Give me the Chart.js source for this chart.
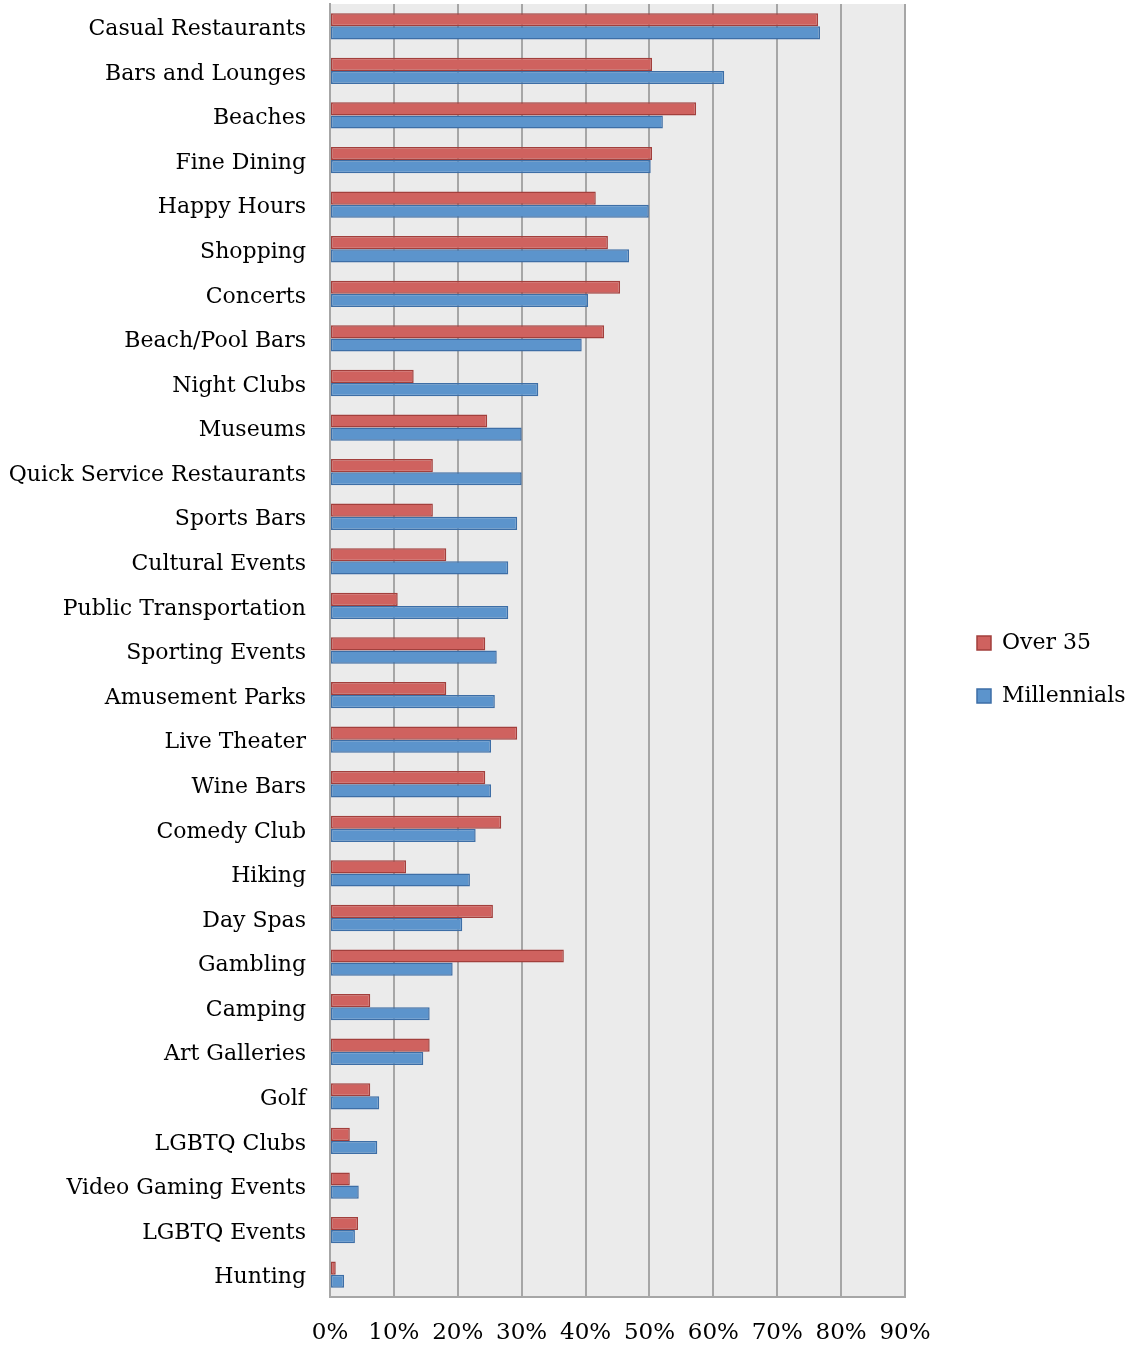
<!DOCTYPE html>
<html>
<head>
<meta charset="utf-8">
<script src="https://cdn.jsdelivr.net/npm/chart.js@4/dist/chart.umd.min.js"></script>
<style>
html,body{margin:0;padding:0;background:#fff;}
#wrap{width:1133px;height:1348px;position:relative;}
</style>
</head>
<body>
<div id="wrap"><canvas id="c" width="1133" height="1348"></canvas></div>
<script>
const categories = ["Casual Restaurants","Bars and Lounges","Beaches","Fine Dining","Happy Hours","Shopping","Concerts","Beach/Pool Bars","Night Clubs","Museums","Quick Service Restaurants","Sports Bars","Cultural Events","Public Transportation","Sporting Events","Amusement Parks","Live Theater","Wine Bars","Comedy Club","Hiking","Day Spas","Gambling","Camping","Art Galleries","Golf","LGBTQ Clubs","Video Gaming Events","LGBTQ Events","Hunting"];
const over35 = [76.4,50.4,57.3,50.4,41.6,43.5,45.4,42.9,13.1,24.6,16.1,16.1,18.2,10.6,24.3,18.2,29.3,24.3,26.8,11.9,25.5,36.6,6.3,15.6,6.3,3.1,3.1,4.4,0.9];
const millennials = [76.7,61.7,52.1,50.2,49.9,46.8,40.4,39.4,32.6,30.0,30.0,29.3,27.9,27.9,26.1,25.8,25.2,25.2,22.8,21.9,20.7,19.2,15.6,14.6,7.7,7.4,4.5,3.9,2.2];
const seriesNames = ["Over 35","Millennials"];
const xTicks = [0,10,20,30,40,50,60,70,80,90];

const FONT = "DejaVu Serif";

const plotBg = {
  id:'plotBg',
  beforeDraw(chart){
    const a = chart.chartArea, ctx = chart.ctx;
    ctx.save();
    ctx.fillStyle = '#EBEBEB';
    ctx.fillRect(a.left, a.top, a.right-a.left, a.bottom-a.top);
    ctx.restore();
  }
};
const legendPlace = {
  id:'legendPlace',
  afterInit(chart){
    const l = chart.legend;
    if(!l) return;
    const f = l.fit.bind(l);
    l.fit = function(){ f(); this.width = 228; };
  },
  afterLayout(chart){
    const l = chart.legend;
    if(!l) return;
    const w = l.width, h = l.height;
    l.left = 946; l.right = 946 + w;
    l.top = 601; l.bottom = 601 + h;
  }
};

new Chart(document.getElementById('c'), {
  type:'bar',
  data:{
    labels: categories,
    datasets:[
      {label: seriesNames[0], data: over35, backgroundColor:'#CF625F', borderColor:'#A23F3C', borderWidth:1.5, borderSkipped:false},
      {label: seriesNames[1], data: millennials, backgroundColor:'#5C94CC', borderColor:'#3D6EA6', borderWidth:1.5, borderSkipped:false}
    ]
  },
  options:{
    indexAxis:'y',
    responsive:false,
    animation:false,
    devicePixelRatio:1,
    datasets:{bar:{categoryPercentage:0.59, barPercentage:1.0}},
    layout:{padding:{top:4,right:0,bottom:0,left:0}},
    scales:{
      x:{
        min:0,max:90,
        afterBuildTicks(scale){ scale.ticks = xTicks.map(v=>({value:v})); },
        afterFit(scale){ scale.height = 51; scale.paddingLeft = 0; scale.paddingRight = 0; },
        grid:{color:'#A6A6A6', lineWidth:2, drawTicks:false},
        border:{color:'#A6A6A6', width:2},
        ticks:{padding:22, color:'#000', font:{family:FONT,size:23}, callback:(v)=>v+'%', maxRotation:0, autoSkip:false}
      },
      y:{
        afterFit(scale){ scale.width = 330; scale.paddingTop = 0; scale.paddingBottom = 0; },
        grid:{display:false, drawTicks:false},
        border:{color:'#A6A6A6', width:2},
        ticks:{padding:24, labelOffset:3, color:'#000', font:{family:FONT,size:22}, autoSkip:false}
      }
    },
    plugins:{
      legend:{
        position:'right',
        align:'start',
        labels:{boxWidth:14, boxHeight:14, padding:31, color:'#000', font:{family:FONT,size:22}}
      },
      tooltip:{enabled:false}
    }
  },
  plugins:[plotBg, legendPlace]
});
</script>
</body>
</html>
